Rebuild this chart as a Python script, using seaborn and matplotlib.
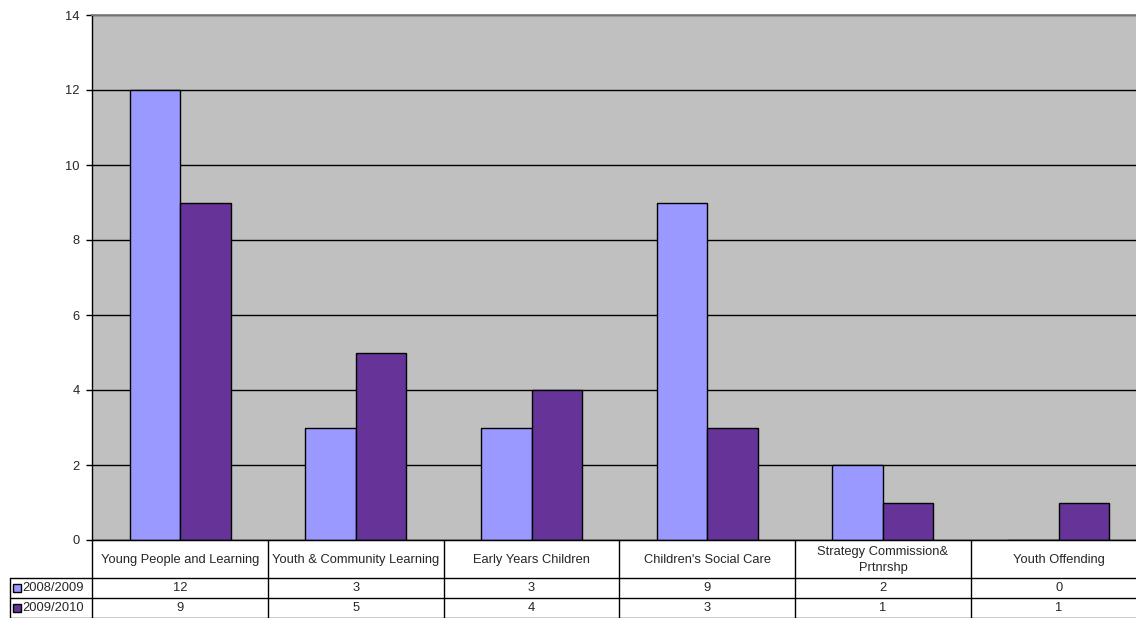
import matplotlib
matplotlib.use("Agg")
import matplotlib.pyplot as plt
import seaborn as sns
import pandas as pd
from matplotlib.patches import Rectangle
from matplotlib.lines import Line2D

categories = ["Young People and Learning", "Youth & Community Learning", "Early Years Children",
              "Children's Social Care", "Strategy Commission&\nPrtnrshp", "Youth Offending"]
series_names = ["2008/2009", "2009/2010"]
values_2008 = [12, 3, 3, 9, 2, 0]
values_2009 = [9, 5, 4, 3, 1, 1]
colors = ["#9999FF", "#663399"]
yticks = [0, 2, 4, 6, 8, 10, 12, 14]

sns.set_style("white")
plt.rcParams['font.family'] = ['Liberation Sans', 'DejaVu Sans']

df = pd.DataFrame({
    "category": categories * 2,
    "series": [series_names[0]] * 6 + [series_names[1]] * 6,
    "value": values_2008 + values_2009,
})

W, H = 1136, 618
fig = plt.figure(figsize=(W / 100, H / 100), dpi=100)

def fx(px):
    return px / W

def fy(py):
    return 1 - py / H

ax_left, ax_top, ax_bottom = 92.3, 15, 540
col_w = 175.7
ax_right = ax_left + col_w * len(categories)
ax = fig.add_axes([fx(ax_left), fy(ax_bottom), fx(ax_right - ax_left), (ax_bottom - ax_top) / H])
ax.set_facecolor("#C0C0C0")

sns.barplot(data=df, x="category", y="value", hue="series", palette=colors, ax=ax,
            width=0.575, edgecolor="black", linewidth=1, legend=False, saturation=1, zorder=3)

fs = 9.3
ax.set_ylim(0, 14)
ax.set_xlim(-0.5, 5.5)
ax.set_yticks(yticks)
ax.set_yticklabels([str(t) for t in yticks], fontsize=fs)
ax.yaxis.grid(True, color="black", linewidth=1, zorder=0)
ax.set_axisbelow(True)
ax.set_xticks([])
ax.set_xlabel("")
ax.set_ylabel("")
ax.tick_params(axis="y", direction="out", length=4, width=1, color="black", left=True, pad=5)
ax.spines["top"].set_color("#808080")
ax.spines["top"].set_linewidth(1.3)
ax.spines["bottom"].set_color("black")
ax.spines["right"].set_visible(False)
ax.spines["left"].set_color("black")
ax.spines["left"].set_linewidth(1)

# Data table below the axes
header_top, header_bot = 540, 578
row_edges = [578, 598, 618]
lab_left = 10
line_kw = dict(color="black", linewidth=1, transform=fig.transFigure)

fig.add_artist(Line2D([fx(ax_left), fx(ax_right)], [fy(header_top), fy(header_top)], **line_kw))
for ry in row_edges[:-1]:
    fig.add_artist(Line2D([fx(lab_left), fx(ax_right)], [fy(ry), fy(ry)], **line_kw))
fig.add_artist(Line2D([fx(lab_left), fx(ax_right)], [fy(617.5), fy(617.5)], **line_kw))
for i in range(len(categories) + 1):
    xx = ax_left + i * col_w
    fig.add_artist(Line2D([fx(xx), fx(xx)], [fy(header_top), fy(618)], **line_kw))
fig.add_artist(Line2D([fx(lab_left), fx(lab_left)], [fy(578), fy(618)], **line_kw))

for i, cat in enumerate(categories):
    cx = ax_left + (i + 0.5) * col_w
    fig.text(fx(cx), fy((header_top + header_bot) / 2 + 1), cat, ha="center", va="center",
             fontsize=fs, linespacing=1.4)
    for r, vals in enumerate([values_2008, values_2009]):
        cy = (row_edges[r] + row_edges[r + 1]) / 2
        fig.text(fx(cx), fy(cy), str(vals[i]), ha="center", va="center", fontsize=fs)

for r, (name, c) in enumerate(zip(series_names, colors)):
    cy = (row_edges[r] + row_edges[r + 1]) / 2
    sq = 7.5
    fig.add_artist(Rectangle((fx(13), fy(cy + sq / 2)), fx(sq), sq / H, facecolor=c,
                             edgecolor="black", linewidth=1, transform=fig.transFigure))
    fig.text(fx(22.5), fy(cy), name, ha="left", va="center", fontsize=fs)

fig.savefig("out.png", dpi=100)
